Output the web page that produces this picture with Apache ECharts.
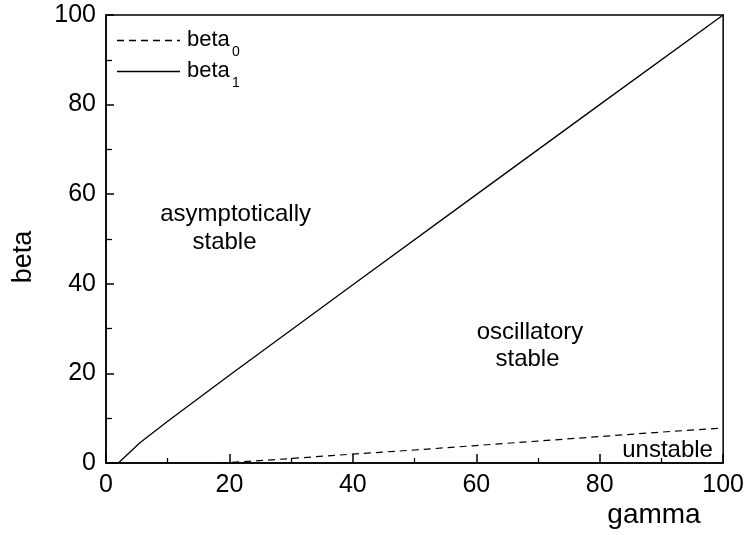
<!DOCTYPE html>
<html>
<head>
<meta charset="utf-8">
<script src="https://cdn.jsdelivr.net/npm/echarts@6/dist/echarts.min.js"></script>
<style>html,body{margin:0;padding:0;background:#fff;}#c{width:747px;height:535px;}</style>
</head>
<body>
<div id="c"></div>
<script>
var beta1Gamma = [0, 2, 5.5, 10, 20, 40, 60, 80, 100];
var beta1Values = [0, 0, 4.5, 9.3, 19.6, 39.8, 59.9, 80, 100];
var beta0Gamma = [18.5, 20, 30, 40, 50, 60, 70, 80, 90, 100];
var beta0Values = [0, 0.1, 1, 2, 2.9, 3.9, 4.9, 5.9, 6.9, 7.8];
var regionLabels = ['asymptotically', 'stable', 'oscillatory', 'stable', 'unstable'];
var regionGamma = [21.0, 19.2, 68.7, 68.3, 91.0];
var regionBeta = [55.6, 49.3, 29.2, 23.2, 2.9];
var legendNames = ['beta', 'beta'];
var legendSubs = ['0', '1'];

function pairs(xs, ys) { return xs.map(function (x, i) { return [x, ys[i]]; }); }

var chart = echarts.init(document.getElementById('c'));
var font = 'Liberation Sans, Arial, sans-serif';

var legendGraphics = [];
var legendDash = [[7, 5], null];
[40, 71].forEach(function (y, i) {
  legendGraphics.push({ type: 'line', shape: { x1: 117, y1: y + 0.5, x2: 180, y2: y + 0.5 }, style: { stroke: '#000', lineWidth: 1.3, lineDash: legendDash[i] } });
  legendGraphics.push({ type: 'text', x: 187, y: y, style: { text: legendNames[i], font: '22px ' + font, fill: '#000', textAlign: 'left', textVerticalAlign: 'middle' } });
  legendGraphics.push({ type: 'text', x: 232, y: y + 12, style: { text: legendSubs[i], font: '14px ' + font, fill: '#000', textAlign: 'left', textVerticalAlign: 'middle' } });
});

chart.setOption({
  animation: false,
  grid: { left: 106, right: 22, top: 15, bottom: 72, show: true, borderColor: '#000', borderWidth: 1.5, backgroundColor: 'transparent' },
  graphic: legendGraphics.concat([
    { type: 'text', x: 24, y: 257, rotation: Math.PI / 2, style: { text: 'beta', font: '27px ' + font, fill: '#000', textAlign: 'center', textVerticalAlign: 'middle' } },
    { type: 'text', x: 654, y: 515, style: { text: 'gamma', font: '28px ' + font, fill: '#000', textAlign: 'center', textVerticalAlign: 'middle' } }
  ]),
  xAxis: {
    type: 'value', min: 0, max: 100, interval: 20,
    axisLine: { show: true, lineStyle: { color: '#000', width: 1.5 } },
    axisTick: { show: true, inside: true, length: 9, lineStyle: { color: '#000', width: 1.5 } },
    minorTick: { show: true, splitNumber: 2, length: 5, lineStyle: { color: '#000', width: 1.3 } },
    axisLabel: { fontSize: 25, fontFamily: font, color: '#000', margin: 10 },
    splitLine: { show: false }
  },
  yAxis: {
    type: 'value', min: 0, max: 100, interval: 20,
    axisLine: { show: true, lineStyle: { color: '#000', width: 1.5 } },
    axisTick: { show: true, inside: true, length: 8, lineStyle: { color: '#000', width: 1.5 } },
    minorTick: { show: true, splitNumber: 2, length: 6, lineStyle: { color: '#000', width: 1.3 } },
    axisLabel: { fontSize: 25, fontFamily: font, color: '#000', margin: 10 },
    splitLine: { show: false }
  },
  series: [
    { name: 'beta0', type: 'line', symbol: 'none', data: pairs(beta0Gamma, beta0Values), lineStyle: { color: '#000', width: 1.2, type: [7, 5] }, itemStyle: { color: '#000' } },
    { name: 'beta1', type: 'line', symbol: 'none', data: pairs(beta1Gamma, beta1Values), lineStyle: { color: '#000', width: 1.3 }, itemStyle: { color: '#000' } },
    { name: 'labels', type: 'scatter', symbolSize: 0, silent: true, itemStyle: { opacity: 1, color: '#000' },
      data: regionLabels.map(function (t, i) { return { value: [regionGamma[i], regionBeta[i]], name: t }; }),
      label: { show: true, opacity: 1, position: 'inside', formatter: function (p) { return p.name; }, fontSize: 24, fontFamily: font, color: '#000', align: 'center', verticalAlign: 'middle' }
    }
  ]
});
</script>
</body>
</html>
